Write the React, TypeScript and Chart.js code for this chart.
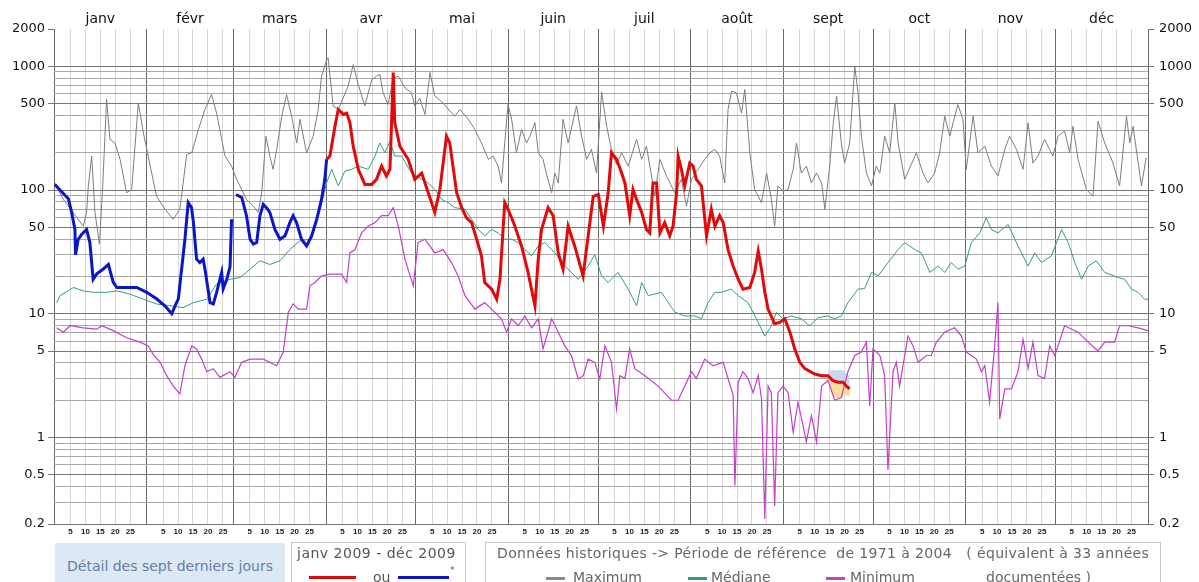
import React, { useEffect, useRef } from 'react';
import { Chart, registerables } from 'chart.js';

Chart.register(...registerables);

// ---------- categories / ticks ----------
const MONTHS = ['janv', 'févr', 'mars', 'avr', 'mai', 'juin', 'juil', 'août', 'sept', 'oct', 'nov', 'déc'];
const MONTH_DAYS = [31, 29, 31, 30, 31, 30, 31, 31, 30, 31, 30, 31];
const DAY_TICKS = [5, 10, 15, 20, 25];
const Y_LABELS = [0.2, 0.5, 1, 5, 10, 50, 100, 500, 1000, 2000];
const Y_GRID = [
  0.2, 0.3, 0.4, 0.5, 0.6, 0.7, 0.8, 0.9,
  1, 2, 3, 4, 5, 6, 7, 8, 9,
  10, 20, 30, 40, 50, 60, 70, 80, 90,
  100, 200, 300, 400, 500, 600, 700, 800, 900,
  1000, 2000,
];
const Y_MAJOR = [0.2, 0.5, 1, 5, 10, 50, 100, 500, 1000];

// ---------- series: [day of year, flow] ----------
const MAXIMUM: [number, number][] = [
  [0.3, 114], [3.1, 84], [9.8, 51], [10.9, 66], [11.5, 108], [12.6, 188], [13.7, 66], [15.2, 36.5],
  [16.3, 108], [17.6, 540], [18.7, 257], [20.4, 240], [22.1, 177], [24.3, 95], [26, 101], [28.2, 505],
  [29.9, 290], [31.5, 188], [34.3, 89], [37.1, 70], [39.9, 58], [42.1, 70], [44.4, 194], [46.1, 200],
  [48.3, 308], [50.5, 447], [52.7, 590], [54.4, 418], [57.2, 188], [59.4, 156], [61.1, 122], [64.4, 84],
  [66.7, 74], [68.3, 66], [69.5, 95], [70.9, 272], [72.2, 188], [73.3, 147], [74.5, 213], [76.2, 395],
  [77.8, 590], [79.5, 395], [81.2, 240], [82.3, 373], [84.5, 200], [86.7, 272], [88.4, 447], [89.5, 830],
  [91.2, 1120], [91.7, 1170], [93.4, 478], [95.1, 447], [98.4, 690], [100.1, 1030], [101.8, 710], [104, 478],
  [106.3, 780], [107.9, 830], [109, 860], [110.1, 610], [111.8, 490], [113.5, 800], [115.2, 830], [117.4, 670],
  [119.6, 610], [120.7, 478], [122.4, 550], [124.1, 408], [125.8, 890], [127.4, 575], [130.2, 505], [132.4, 435],
  [134.1, 395], [135.8, 447], [138.6, 373], [140.8, 308], [143, 240], [145.3, 177], [146.9, 188], [148.6, 156],
  [149.7, 114], [150.8, 240], [151.9, 490], [153.1, 373], [154.7, 200], [156.4, 308], [158.1, 240], [159.2, 272],
  [160.9, 350], [162, 200], [163.6, 177], [164.8, 134], [166.5, 95], [167.6, 137], [168.7, 114], [170.3, 373],
  [172, 240], [174.8, 478], [176.5, 272], [178.2, 177], [179.8, 213], [181.5, 137], [183.2, 620], [184.9, 327],
  [186.5, 213], [188.2, 161], [189.9, 200], [192.1, 156], [194.9, 257], [196.6, 177], [198.2, 226], [199.9, 130],
  [201, 89], [202.7, 177], [204.9, 130], [207.7, 95], [209.9, 122], [211.6, 74], [213.3, 122], [215.5, 147],
  [217.7, 177], [219.4, 200], [221.1, 213], [222.7, 188], [224.4, 114], [225.5, 447], [226.7, 630], [228.3, 610],
  [230, 418], [231.1, 650], [232.8, 200], [234.4, 101], [236.7, 79], [238.4, 137], [240, 84], [241.1, 51],
  [242.2, 108], [243.9, 98], [245.6, 101], [247.3, 147], [248.4, 240], [250, 137], [251.7, 156], [253.4, 114],
  [255.1, 137], [256.8, 114], [257.9, 70], [259.5, 156], [260.6, 327], [261.8, 575], [263.4, 240], [264.5, 165],
  [266.2, 240], [267.9, 1000], [269, 610], [270.1, 272], [271.8, 137], [273.5, 108], [275.1, 156], [276.3, 137],
  [277.9, 272], [279.6, 200], [281.3, 505], [282.4, 240], [284.6, 122], [288.5, 200], [290.7, 137], [292.4, 114],
  [294.6, 137], [296.3, 200], [298, 395], [299.7, 272], [300.8, 350], [302.4, 490], [304.1, 373], [305.2, 147],
  [307.5, 395], [309.1, 200], [311.4, 226], [313.6, 156], [315.8, 130], [318.1, 213], [319.7, 272], [322, 213],
  [324.2, 147], [325.9, 350], [327.5, 165], [329.2, 188], [331.4, 257], [334.2, 188], [335.9, 272], [338.1, 300],
  [339.8, 200], [340.9, 327], [342.6, 177], [345.4, 101], [347.6, 89], [349.3, 360], [351.5, 240], [354.3, 165],
  [356.5, 108], [358.8, 395], [359.9, 240], [361, 327], [363.8, 108], [365.4, 182],
];

const MEDIANE: [number, number][] = [
  [0.9, 12.3], [2, 14], [6.5, 16.3], [9.8, 15.3], [13.1, 14.9], [17.6, 14.9], [21, 15.3], [25.4, 14.4],
  [29.9, 13.1], [34.3, 12], [38.8, 11.6], [43.2, 11.2], [46.6, 12.3], [51.1, 13.1], [54.4, 17.4], [58.9, 19],
  [62.2, 19.6], [65.6, 22.9], [68.9, 26.8], [72.2, 25], [75.6, 26.8], [78.9, 33], [82.3, 38.9], [85.6, 40],
  [89, 70], [91.2, 114], [92.9, 147], [95.1, 108], [97.3, 142], [99.6, 147], [101.8, 156], [105.1, 147],
  [107.4, 188], [109, 240], [110.7, 200], [112.4, 248], [114, 188], [116.3, 188], [119.6, 137], [123, 122],
  [125.2, 114], [127.4, 101], [129.7, 84], [131.9, 79], [134.1, 72], [137.5, 70], [139.7, 58], [141.9, 48],
  [144.1, 42.6], [146.4, 48], [148.6, 45], [150.8, 40], [153.1, 40], [155.3, 37.6], [157.5, 33], [159.8, 29.4],
  [162, 35.3], [164.2, 37.6], [167.6, 31], [170.9, 24.3], [175.4, 19], [178.7, 24.3], [180.9, 30], [183.2, 20.2],
  [185.4, 17.9], [188.7, 21.6], [192.1, 15.8], [194.9, 11.6], [196.6, 17.9], [198.8, 14], [203.2, 14.9], [207.7, 10.3],
  [211, 9.6], [214.4, 9.6], [216.6, 9.1], [218.8, 12.3], [221.1, 14.9], [223.3, 14.9], [226.6, 15.8], [228.9, 14],
  [232.2, 12.3], [235.6, 8.5], [237.8, 6.6], [240, 8], [241.7, 10.3], [243.9, 9.1], [246.7, 9.6], [250, 9.1],
  [252.8, 8], [255.6, 9.3], [258.9, 9.6], [261.2, 9.1], [263.4, 9.6], [265.6, 12.3], [269, 15.8], [271.2, 16],
  [273.5, 21.6], [275.7, 20.2], [279, 25.9], [282.4, 33], [284.6, 37.6], [288, 33], [290.2, 31], [293, 21.6],
  [295.8, 24.3], [298, 21.6], [300.2, 25.9], [302.4, 22.9], [304.7, 24.3], [306.9, 37.6], [309.7, 45], [311.9, 59.5],
  [313.6, 48], [315.8, 45], [319.2, 52.6], [322.5, 35.3], [325.9, 24.3], [328.1, 31], [330.4, 25.9], [333.7, 29.4],
  [337.1, 48], [339.3, 37.6], [341.5, 25.9], [343.8, 19], [346, 24.3], [348.7, 26.8], [351.5, 21.6], [356, 19.6],
  [358.2, 19], [360.5, 15.8], [362.7, 14.9], [364.9, 13.1], [366, 13.1],
];

const MINIMUM: [number, number][] = [
  [0.9, 7.7], [3.1, 7.1], [5.4, 8], [9.8, 7.7], [14.3, 7.5], [16, 8], [19.8, 7.3], [24.3, 6.4],
  [28.8, 5.9], [31.5, 5.5], [33.2, 4.7], [35.5, 4.05], [37.7, 3.16], [39.9, 2.6], [42.1, 2.25], [43.8, 3.8],
  [46.1, 5.5], [47.7, 5.2], [49.4, 4.3], [51.1, 3.4], [53.3, 3.6], [55.5, 3.06], [58.9, 3.4], [60.5, 3.06],
  [62.8, 4.05], [65.6, 4.3], [70, 4.3], [74.5, 3.8], [76.7, 4.9], [78.4, 10.3], [80, 12], [81.7, 10.9],
  [84.5, 10.9], [85.6, 16.8], [87.3, 17.9], [89.5, 20.2], [92.3, 20.9], [96.2, 20.9], [97.9, 17.9], [99, 31],
  [100.7, 33], [102.9, 45], [105.1, 51], [107.4, 54.5], [109.6, 62], [111.8, 62], [113.5, 72], [115.2, 51],
  [117.4, 27.6], [120.2, 16.8], [121.8, 37.6], [124.1, 40], [127.4, 31], [130.2, 33], [133, 25.9], [135.2, 20.2],
  [137.5, 14], [140.8, 10.9], [144.1, 12.3], [146.4, 10.9], [149.7, 9.1], [151.4, 7.1], [153.1, 9.1], [155.3, 8],
  [157.5, 9.6], [159.8, 7.7], [162, 9.1], [163.6, 5.2], [166.5, 9.1], [168.7, 7.1], [170.9, 5.5], [173.1, 4.6],
  [175.4, 2.97], [177.1, 3.16], [178.7, 4.3], [180.9, 4.05], [182.6, 2.97], [184.3, 5.5], [186.5, 4.05], [188.2, 1.7],
  [189.3, 3.16], [191, 3], [192.6, 5.2], [194.3, 3.6], [197.7, 3.16], [202.1, 2.6], [206.6, 2], [208.8, 2],
  [211, 2.6], [213.3, 3.4], [214.9, 3], [217.7, 4.3], [220.5, 3.8], [223.9, 4.05], [225.5, 3], [227.2, 2.2],
  [227.8, 0.41], [228.9, 2.8], [230.5, 3.4], [232.2, 3], [233.9, 2.3], [235.6, 3.16], [236.7, 2.05], [237.8, 0.22],
  [238.9, 2.6], [240, 2.3], [241.1, 0.28], [242.2, 2.3], [243.9, 2.6], [245.6, 2.3], [247.3, 1.1], [248.9, 1.93],
  [250.6, 1.25], [251.7, 0.92], [253.4, 1.5], [255.1, 0.92], [256.8, 2.6], [258.9, 2.9], [261.2, 2.0], [263.4, 2.1],
  [265.6, 3.4], [267.9, 4.6], [270.1, 4.9], [271.8, 5.9], [272.9, 1.8], [274, 5.2], [276.3, 4.6], [277.9, 3.16],
  [279, 0.55], [280.7, 3.4], [281.8, 4.05], [282.9, 2.6], [284.6, 4.6], [285.7, 6.6], [287.4, 5.5], [289.1, 4.05],
  [291.9, 4.6], [293.5, 4.6], [295.2, 5.9], [298, 7.1], [301.3, 7.7], [303.6, 6.6], [305.2, 4.9], [308.6, 4.3],
  [310.3, 3.4], [311.4, 3.8], [313, 1.93], [314.7, 5.5], [315.8, 12.3], [316.4, 1.41], [318.1, 2.47], [320.3, 2.47],
  [322.5, 3.4], [324.2, 6.2], [325.9, 3.6], [327.5, 5.9], [329.2, 3.16], [331.4, 3], [333.1, 5.5], [334.8, 4.6],
  [335.9, 5.5], [338.1, 8], [342.6, 7.1], [346, 5.9], [349.3, 5], [351.5, 5.9], [354.8, 5.9], [356.5, 8],
  [359.3, 8], [362.7, 7.7], [366, 7.3],
];

// 2009, provisional (blue "*"), Jan-Mar, with a gap at the end of February
const FLOW_2009_PROV: [number, number | null][] = [
  [0.3, 111], [2, 100], [4.8, 85], [5.9, 66], [7, 48], [7.2, 30], [8.1, 40], [9.3, 44],
  [10.9, 48], [12, 37.6], [13.1, 19], [14.3, 21], [16.5, 23], [18.2, 25], [19.8, 18], [21, 16.3],
  [24.3, 16.3], [27.7, 16.3], [31, 14.9], [34.3, 13.2], [37.1, 11.6], [39.4, 10], [40.8, 12], [41.6, 13.2],
  [42.7, 23], [43.8, 40], [44.9, 79], [46, 72], [46.6, 56], [47.7, 27.6], [48.8, 25.9], [49.9, 27.6],
  [50.5, 23], [52.2, 12.3], [53.3, 12], [54.4, 14.9], [56.1, 21.6], [56.6, 15.9], [57.8, 19], [58.9, 24],
  [59.4, 58], [60.2, null], [60.9, 92], [62.8, 87], [64.4, 62], [65.6, 40], [66.7, 36.5], [67.8, 37.6],
  [68.9, 62], [70, 76.6], [71.1, 72], [72.2, 66], [73.9, 48], [75.6, 40], [77.3, 42.6], [78.9, 54.5],
  [80, 62], [81.2, 54], [82.8, 40], [84.5, 35.3], [86.2, 42.6], [87.9, 58], [89.5, 84], [90.6, 122],
  [91.2, 177],
];

// 2009 validated (red), from April
const FLOW_2009: [number, number][] = [
  [91.2, 177], [92.3, 188], [94, 327], [95.1, 447], [96.8, 408], [97.9, 418], [99, 350], [100.1, 226],
  [101.8, 147], [104, 111], [106.3, 111], [107.9, 122], [109.6, 156], [111.2, 130], [112.4, 147], [113.5, 890],
  [114, 350], [115.7, 226], [118.5, 177], [120.7, 122], [123, 137], [125.2, 95], [127.4, 66], [129.1, 101],
  [131.3, 272], [132.4, 240], [134.7, 95], [136.4, 72], [138, 59.5], [139.7, 54.5], [141.4, 40], [143, 29.4],
  [144.1, 17.9], [146.4, 15.8], [148.1, 13.1], [149.2, 19], [150.8, 79], [151.9, 70], [154.2, 51], [156.4, 35.3],
  [158.6, 21.6], [160.9, 11.6], [162, 27.6], [163.1, 48], [165.3, 72], [167, 62], [168.7, 31], [170.3, 22.9],
  [172, 51], [174.2, 35.3], [177, 20.2], [178.7, 42.6], [180.4, 89], [182.1, 92], [183.8, 51], [185.4, 95],
  [186.5, 200], [188.2, 177], [189.9, 137], [191, 114], [192.6, 62], [193.7, 101], [194.9, 84], [196.6, 66],
  [198.2, 48], [199.3, 45], [200.4, 114], [201.6, 114], [202.7, 45], [204.3, 54.5], [206, 42.6], [207.1, 51],
  [208.3, 95], [208.8, 188], [209.9, 147], [211, 108], [212.7, 165], [213.8, 156], [214.9, 122], [216.6, 108],
  [218.3, 42.6], [219.9, 70], [221.1, 51], [222.7, 62], [223.9, 54.5], [225.5, 33], [227.2, 24.3], [228.9, 19],
  [230.5, 15.8], [232.8, 16.3], [234.4, 21.6], [235.6, 32], [236.7, 22.9], [237.8, 14.9], [238.9, 10.9], [241.1, 8.3],
  [242.8, 8.5], [244.5, 9.1], [246.2, 7.1], [247.8, 5.2], [249.5, 4.05], [251.2, 3.6], [254.5, 3.26], [256.8, 3.16],
  [258.9, 3.16], [260.6, 2.88], [262.3, 2.8], [264, 2.8], [265.1, 2.6], [266.2, 2.47],
];

// last seven days detail band (upper / lower envelope)
const LAST7_UPPER: [number, number][] = [[258.9, 3.5], [260.6, 3.5], [262.3, 3.5], [264, 3.5], [265.1, 3.3], [266.2, 3.1]];
const LAST7_LOWER: [number, number][] = [[258.9, 2.9], [260.6, 2.2], [262.3, 2.05], [264, 2.2], [265.1, 2.2], [266.2, 2.15]];

// ---------- derived layout helpers ----------
const MONTH_START: number[] = MONTH_DAYS.reduce<number[]>((acc, d, i) => {
  acc.push(i === 0 ? 0 : acc[i - 1] + MONTH_DAYS[i - 1]);
  return acc;
}, []);
const YEAR_DAYS = MONTH_DAYS.reduce((a, b) => a + b, 0);
const MONTH_MID = MONTH_START.map((s, i) => s + MONTH_DAYS[i] / 2);

const X_TICKS: { value: number; label: string; month: boolean }[] = [];
MONTH_START.forEach((s) => {
  X_TICKS.push({ value: s, label: '', month: true });
  DAY_TICKS.forEach((d) => X_TICKS.push({ value: s + d + 0.5, label: String(d), month: false }));
});
X_TICKS.push({ value: YEAR_DAYS, label: '', month: true });

const pts = (a: [number, number | null][]) => a.map(([x, y]) => ({ x, y }));

const W = 1199;
const H = 582;
const FONT = "'DejaVu Sans', Verdana, sans-serif";

export default function App() {
  const ref = useRef<HTMLCanvasElement | null>(null);

  useEffect(() => {
    if (!ref.current) return;
    const tail = FLOW_2009.filter(([x]) => x >= LAST7_UPPER[0][0]);
    const yAxis = (position: 'left' | 'right', width: number) => ({
      type: 'logarithmic' as const,
      position,
      min: 0.2,
      max: 2000,
      afterBuildTicks: (s: any) => {
        s.ticks = Y_GRID.map((v) => ({ value: v }));
      },
      afterFit: (s: any) => {
        s.width = width;
      },
      ticks: {
        autoSkip: false,
        padding: position === 'left' ? 3 : 5,
        color: '#111',
        font: { family: FONT, size: 13 },
        callback: (v: any) => (Y_LABELS.includes(Number(v)) ? String(v) : ''),
      },
      grid: {
        drawOnChartArea: position === 'left',
        tickLength: 6,
        lineWidth: 1,
        color: (c: any) => {
          const v = c.tick?.value;
          if (v === 2000) return 'rgba(0,0,0,0)';
          return Y_MAJOR.includes(v) ? '#757575' : '#a8a8a8';
        },
        tickColor: (c: any) => (Y_LABELS.includes(c.tick?.value) ? '#757575' : 'rgba(0,0,0,0)'),
      },
      border: { display: false },
    });

    const chart = new Chart(ref.current, {
      type: 'line',
      data: {
        datasets: [
          { label: '2009', data: pts(FLOW_2009), borderColor: '#e00a0a', borderWidth: 3, pointRadius: 0, tension: 0, fill: false },
          { label: '2009*', data: pts(FLOW_2009_PROV), borderColor: '#0b17c4', borderWidth: 3, pointRadius: 0, tension: 0, spanGaps: false, fill: false },
          { label: 'Maximum', data: pts(MAXIMUM), borderColor: '#7d7d7d', borderWidth: 1, pointRadius: 0, tension: 0, fill: false },
          { label: 'Médiane', data: pts(MEDIANE), borderColor: '#2f9e82', borderWidth: 1, pointRadius: 0, tension: 0, fill: false },
          { label: 'Minimum', data: pts(MINIMUM), borderColor: '#c53fc9', borderWidth: 1.2, pointRadius: 0, tension: 0, fill: false },
          { label: 'haut', data: pts(LAST7_UPPER), borderWidth: 0, borderColor: 'rgba(0,0,0,0)', pointRadius: 0, tension: 0, fill: { target: 6 }, backgroundColor: '#c6d8ee' },
          { label: 'fin', data: pts(tail), borderWidth: 0, borderColor: 'rgba(0,0,0,0)', pointRadius: 0, tension: 0, fill: false },
          { label: 'bas', data: pts(LAST7_LOWER), borderWidth: 0, borderColor: 'rgba(0,0,0,0)', pointRadius: 0, tension: 0, fill: { target: 6 }, backgroundColor: '#fadc9c' },
        ],
      },
      options: {
        responsive: false,
        animation: false,
        events: [],
        layout: { padding: 0 },
        plugins: { legend: { display: false }, tooltip: { enabled: false }, title: { display: false } },
        scales: {
          x: {
            type: 'linear',
            position: 'bottom',
            min: 0,
            max: YEAR_DAYS,
            afterBuildTicks: (s: any) => {
              s.ticks = X_TICKS.map((t) => ({ value: t.value }));
            },
            afterFit: (s: any) => {
              s.height = H - 524;
            },
            ticks: {
              autoSkip: false,
              maxRotation: 0,
              minRotation: 0,
              padding: 3,
              color: '#222',
              font: { family: "'Liberation Sans', Arial, sans-serif", size: 8, weight: 'bold' },
              callback: (_v: any, i: number) => X_TICKS[i]?.label ?? '',
            },
            grid: {
              drawTicks: false,
              lineWidth: 1,
              color: (c: any) => (X_TICKS[c.index]?.month ? '#6a6a6a' : '#d6d6d6'),
            },
            border: { display: false },
          },
          xTop: {
            type: 'linear',
            position: 'top',
            min: 0,
            max: YEAR_DAYS,
            afterBuildTicks: (s: any) => {
              s.ticks = MONTH_MID.map((v) => ({ value: v }));
            },
            afterFit: (s: any) => {
              s.height = 29;
            },
            ticks: {
              autoSkip: false,
              maxRotation: 0,
              minRotation: 0,
              padding: 1,
              color: '#111',
              font: { family: FONT, size: 14 },
              callback: (_v: any, i: number) => MONTHS[i] ?? '',
            },
            grid: { display: false, drawTicks: false },
            border: { display: false },
          },
          y: yAxis('left', 54) as any,
          y2: yAxis('right', W - 1148) as any,
        },
      },
    });
    return () => chart.destroy();
  }, []);

  const legendText: React.CSSProperties = { position: 'absolute', fontFamily: FONT, fontSize: 14, whiteSpace: 'pre', lineHeight: '17px' };

  return (
    <div style={{ position: 'absolute', left: 0, top: 0, width: W, height: H, overflow: 'hidden', background: '#fff' }}>
      <canvas ref={ref} width={W} height={H} style={{ display: 'block', width: W, height: H }} />

      <div style={{ position: 'absolute', left: 55, top: 543, width: 230, height: 48, background: '#dce8f4' }}>
        <div style={{ ...legendText, left: 0, width: 230, top: 15, textAlign: 'center', color: '#66809e' }}>Détail des sept derniers jours</div>
      </div>

      <div style={{ position: 'absolute', left: 291, top: 542, width: 175, height: 50, border: '1px solid #c8c8c8', boxSizing: 'border-box' }}>
        <div style={{ ...legendText, left: 5, top: 2, color: '#555', letterSpacing: 0.5 }}>janv 2009 - déc 2009</div>
        <div style={{ position: 'absolute', left: 17, top: 33, width: 47, height: 3, background: '#d90d0d' }} />
        <div style={{ ...legendText, left: 81, top: 26, color: '#555' }}>ou</div>
        <div style={{ position: 'absolute', left: 106, top: 33, width: 51, height: 3, background: '#0b17c4' }} />
        <div style={{ ...legendText, left: 158, top: 19, fontSize: 9, color: '#555' }}>*</div>
      </div>

      <div style={{ position: 'absolute', left: 485, top: 542, width: 676, height: 50, border: '1px solid #c8c8c8', boxSizing: 'border-box' }}>
        <div style={{ ...legendText, left: 11, top: 2, color: '#666', letterSpacing: 0.35 }}>{'Données historiques -> Période de référence  de 1971 à 2004   ( équivalent à 33 années'}</div>
        <div style={{ position: 'absolute', left: 60, top: 34, width: 19, height: 3, background: '#8a8a8a' }} />
        <div style={{ ...legendText, left: 87, top: 26, color: '#666' }}>Maximum</div>
        <div style={{ position: 'absolute', left: 202, top: 34, width: 19, height: 3, background: '#2f9e82' }} />
        <div style={{ ...legendText, left: 225, top: 26, color: '#666' }}>Médiane</div>
        <div style={{ position: 'absolute', left: 340, top: 34, width: 19, height: 3, background: '#c53fc9' }} />
        <div style={{ ...legendText, left: 364, top: 26, color: '#666' }}>Minimum</div>
        <div style={{ ...legendText, left: 500, top: 26, color: '#666' }}>documentées )</div>
      </div>
    </div>
  );
}
